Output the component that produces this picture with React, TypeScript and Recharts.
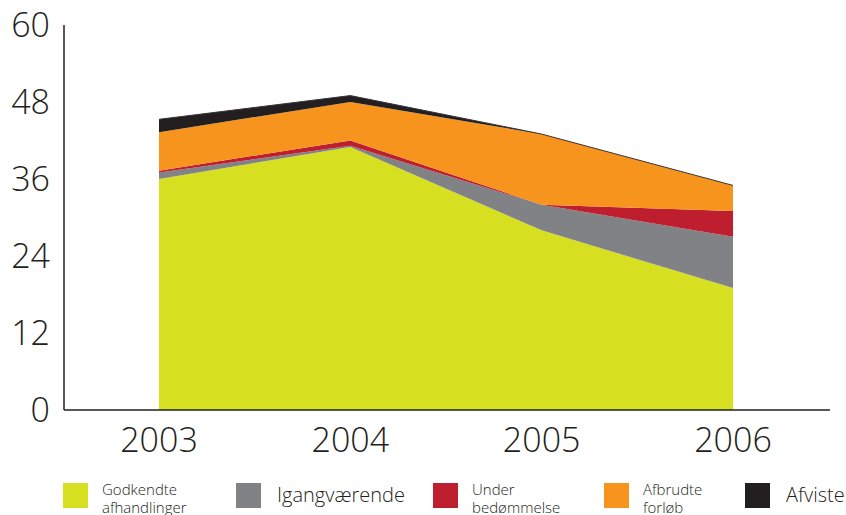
import { AreaChart, Area, XAxis, YAxis, Legend } from 'recharts'

const years = ['2003', '2004', '2005', '2006']
const godkendte = [36, 41, 28, 19]
const igangvaerende = [1, 0.2, 4, 8]
const underBedoemmelse = [0.3, 0.8, 0, 4]
const afbrudte = [6, 6, 11, 4]
const afviste = [2, 1, 0, 0]
const yTicks = [0, 12, 24, 36, 48, 60]

const SERIES = [
    { key: 'godkendte', lines: ['Godkendte', 'afhandlinger'], color: '#d7df21', x: 63 },
    { key: 'igang', lines: ['Igangværende'], color: '#808285', x: 236 },
    { key: 'under', lines: ['Under', 'bedømmelse'], color: '#be1e2d', x: 433 },
    { key: 'afbrudte', lines: ['Afbrudte', 'forløb'], color: '#f7941d', x: 604 },
    { key: 'afviste', lines: ['Afviste'], color: '#231f20', x: 745 },
]

const data = years.map((year, i) => ({
    year,
    godkendte: godkendte[i],
    igang: igangvaerende[i],
    under: underBedoemmelse[i],
    afbrudte: afbrudte[i],
    afviste: afviste[i],
}))

const FONT = '"Open Sans", "Noto Sans", sans-serif'
const INK = '#231f20'

const renderLegend = () => (
    <div style={{ position: 'relative', width: 846, height: 37, fontFamily: FONT, color: INK }}>
        {SERIES.map((s) => (
            <div key={s.key} style={{ position: 'absolute', left: s.x, top: 0, display: 'flex', alignItems: 'flex-start' }}>
                <div style={{ width: 25, height: 25, background: s.color, marginTop: 5 }} />
                <div style={{
                    marginLeft: s.lines.length > 1 ? 14 : 16,
                    fontSize: s.lines.length > 1 ? 15 : 20,
                    lineHeight: s.lines.length > 1 ? '18px' : '24px',
                    marginTop: s.lines.length > 1 ? 2 : 5,
                    fontWeight: 300,
                    whiteSpace: 'nowrap',
                }}>
                    {s.lines.map((l) => <div key={l}>{l}</div>)}
                </div>
            </div>
        ))}
    </div>
)

export default function App() {
    return (
        <div style={{ position: 'absolute', left: 0, top: 0, width: 846, height: 515, background: '#fff' }}>
            <AreaChart width={846} height={515} data={data} margin={{ top: 25, right: 16, left: 0, bottom: 38 }}>
                <XAxis
                    dataKey="year"
                    height={30}
                    padding={{ left: 95, right: 97 }}
                    tickSize={0}
                    tickMargin={18}
                    axisLine={{ stroke: INK, strokeWidth: 1.5 }}
                    tick={{ fill: INK, fontSize: 34, fontFamily: FONT, fontWeight: 300 }}
                />
                <YAxis
                    width={64}
                    domain={[0, 60]}
                    ticks={yTicks}
                    interval={0}
                    tickSize={0}
                    tickMargin={14}
                    axisLine={{ stroke: INK, strokeWidth: 1.5 }}
                    tick={{ fill: INK, fontSize: 34, fontFamily: FONT, fontWeight: 300 }}
                />
                {SERIES.map((s) => (
                    <Area
                        key={s.key}
                        type="linear"
                        dataKey={s.key}
                        stackId="1"
                        fill={s.color}
                        fillOpacity={1}
                        stroke={s.key === 'afviste' ? '#3a3436' : 'none'}
                        strokeWidth={1}
                        isAnimationActive={false}
                    />
                ))}
                <Legend content={renderLegend} wrapperStyle={{ position: 'absolute', left: 0, top: 478, width: 846 }} />
            </AreaChart>
        </div>
    )
}
